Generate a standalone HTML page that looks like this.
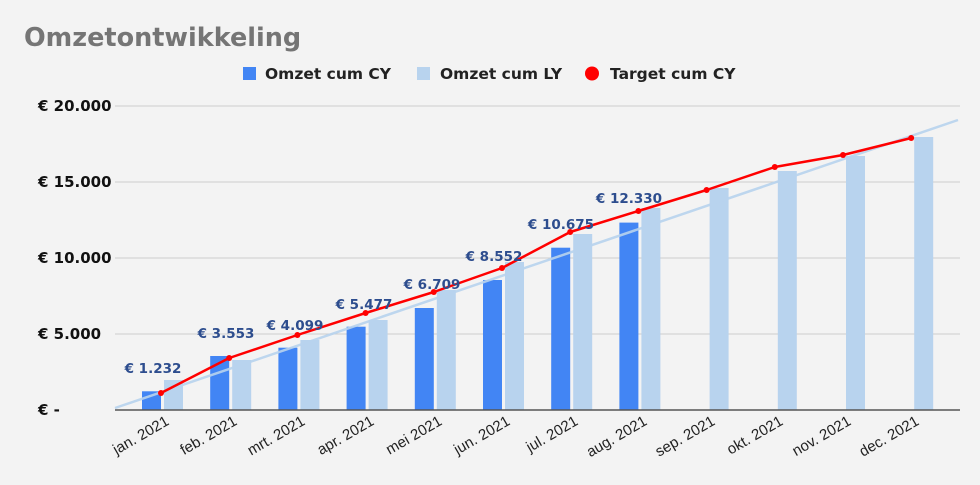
<!DOCTYPE html>
<html><head><meta charset="utf-8"><style>
html,body{margin:0;padding:0;background:#f3f3f3;}
svg{display:block;font-family:"Liberation Sans",sans-serif;}
.b{font-family:"DejaVu Sans","Liberation Sans",sans-serif;font-weight:bold;}
</style></head><body>
<svg width="980" height="485" viewBox="0 0 980 485">
<rect width="980" height="485" fill="#f3f3f3"/>
<text class="b" x="24" y="46" font-size="25.5" fill="#757575">Omzetontwikkeling</text>
<!-- legend -->
<rect x="243" y="67" width="13" height="13" fill="#4285f4"/>
<text class="b" x="265" y="79" font-size="15.5" fill="#222">Omzet cum CY</text>
<rect x="417" y="67" width="13" height="13" fill="#b8d3ee"/>
<text class="b" x="440" y="79" font-size="15.5" fill="#222">Omzet cum LY</text>
<circle cx="592" cy="73.5" r="7" fill="#ff0000"/>
<text class="b" x="610" y="79" font-size="15.5" fill="#222">Target cum CY</text>
<!-- grid -->
<g stroke="#cccccc" stroke-width="1">
<line x1="115" y1="106" x2="960" y2="106"/>
<line x1="115" y1="182" x2="960" y2="182"/>
<line x1="115" y1="258" x2="960" y2="258"/>
<line x1="115" y1="334" x2="960" y2="334"/>
</g>
<g class="b" font-size="15" fill="#111">
<text x="38" y="111">€ 20.000</text>
<text x="38" y="187">€ 15.000</text>
<text x="38" y="263">€ 10.000</text>
<text x="38" y="339">€ 5.000</text>
<text x="38" y="415">€ -</text>
</g>
<!-- LY bars -->
<g fill="#b8d3ee">
<rect x="164" y="380" width="19" height="30"/>
<rect x="232.2" y="360" width="19" height="50"/>
<rect x="300.4" y="340" width="19" height="70"/>
<rect x="368.6" y="320" width="19" height="90"/>
<rect x="436.8" y="290" width="19" height="120"/>
<rect x="505" y="262" width="19" height="148"/>
<rect x="573.2" y="234" width="19" height="176"/>
<rect x="641.4" y="208" width="19" height="202"/>
<rect x="709.6" y="188" width="19" height="222"/>
<rect x="777.8" y="171" width="19" height="239"/>
<rect x="846" y="156" width="19" height="254"/>
<rect x="914.2" y="137" width="19" height="273"/>
</g>
<!-- CY bars -->
<g fill="#4285f4">
<rect x="142" y="391.3" width="19" height="18.7"/>
<rect x="210.2" y="356" width="19" height="54"/>
<rect x="278.4" y="347.7" width="19" height="62.3"/>
<rect x="346.6" y="326.7" width="19" height="83.3"/>
<rect x="414.8" y="308" width="19" height="102"/>
<rect x="483" y="280" width="19" height="130"/>
<rect x="551.2" y="247.7" width="19" height="162.3"/>
<rect x="619.4" y="222.6" width="19" height="187.4"/>
</g>
<!-- trendline -->
<line x1="115" y1="408" x2="958" y2="120" stroke="#b8d3ee" stroke-width="2.5" opacity="0.9"/>
<line x1="115" y1="410" x2="960" y2="410" stroke="#555" stroke-width="1.5"/>
<!-- target -->
<polyline fill="none" stroke="#ff0000" stroke-width="2.5" stroke-linejoin="round"
points="161,393 229.2,358 297.4,335 365.6,313 433.8,292 502,268 570.2,232 638.4,211 706.6,190 774.8,167 843,155 911.2,138"/>
<g fill="#ff0000">
<circle cx="161" cy="393" r="3"/><circle cx="229.2" cy="358" r="3"/><circle cx="297.4" cy="335" r="3"/>
<circle cx="365.6" cy="313" r="3"/><circle cx="433.8" cy="292" r="3"/><circle cx="502" cy="268" r="3"/>
<circle cx="570.2" cy="232" r="3"/><circle cx="638.4" cy="211" r="3"/><circle cx="706.6" cy="190" r="3"/>
<circle cx="774.8" cy="167" r="3"/><circle cx="843" cy="155" r="3"/><circle cx="911.2" cy="138" r="3"/>
</g>
<!-- data labels -->
<g class="b" font-size="13.5" fill="#2d4d8e" text-anchor="middle">
<text x="153" y="373">€ 1.232</text>
<text x="226" y="338">€ 3.553</text>
<text x="295" y="330">€ 4.099</text>
<text x="364" y="309">€ 5.477</text>
<text x="432" y="289">€ 6.709</text>
<text x="494" y="261">€ 8.552</text>
<text x="561" y="229">€ 10.675</text>
<text x="629" y="203">€ 12.330</text>
</g>
<!-- x labels -->
<g font-size="15" fill="#222" text-anchor="end">
<text transform="translate(170,424) rotate(-30)">jan. 2021</text>
<text transform="translate(238,424) rotate(-30)">feb. 2021</text>
<text transform="translate(306,424) rotate(-30)">mrt. 2021</text>
<text transform="translate(375,424) rotate(-30)">apr. 2021</text>
<text transform="translate(443,424) rotate(-30)">mei 2021</text>
<text transform="translate(511,424) rotate(-30)">jun. 2021</text>
<text transform="translate(579,424) rotate(-30)">jul. 2021</text>
<text transform="translate(648,424) rotate(-30)">aug. 2021</text>
<text transform="translate(716,424) rotate(-30)">sep. 2021</text>
<text transform="translate(784,424) rotate(-30)">okt. 2021</text>
<text transform="translate(852,424) rotate(-30)">nov. 2021</text>
<text transform="translate(920,424) rotate(-30)">dec. 2021</text>
</g>
</svg>
</body></html>
